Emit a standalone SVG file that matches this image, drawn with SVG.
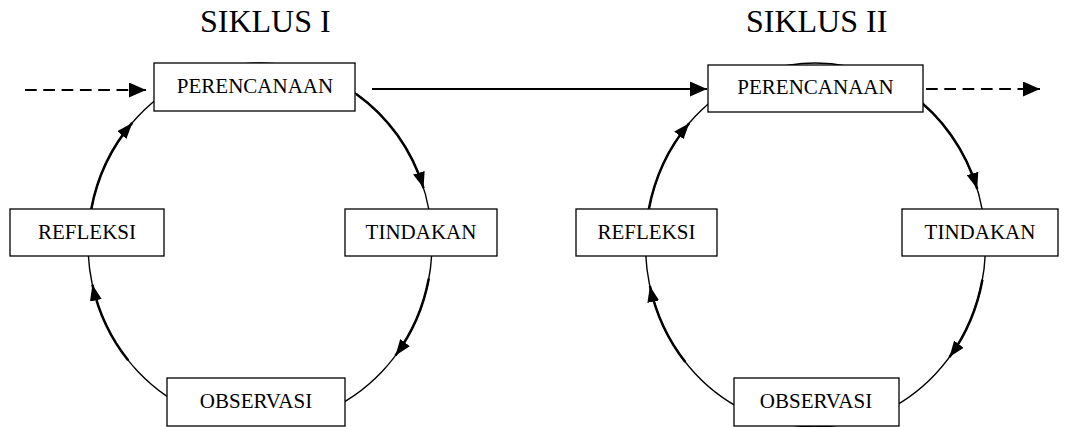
<svg xmlns="http://www.w3.org/2000/svg" width="1073" height="427" viewBox="0 0 1073 427">
<style>
.bg{fill:#fff}
.box{fill:#fff;stroke:#000;stroke-width:1.3}
.lbl{font-family:"Liberation Serif","Times New Roman",serif;font-size:21px;fill:#000;text-anchor:middle}
.ttl{font-family:"Liberation Serif","Times New Roman",serif;font-size:32px;fill:#000}
.ring{fill:none;stroke:#000;stroke-width:1.4}
.arc{fill:none;stroke:#000;stroke-width:2.5;marker-end:url(#ah2)}
.dash{fill:none;stroke:#000;stroke-width:2.2;stroke-dasharray:11.7 6.6;marker-end:url(#ah)}
.solid{fill:none;stroke:#000;stroke-width:2.2;marker-end:url(#ah)}
</style>
<defs>
<marker id="ah" viewBox="0 0 17 15" refX="17" refY="7.5" markerWidth="17" markerHeight="15" markerUnits="userSpaceOnUse" orient="auto"><path d="M0,0 L17,7.5 L0,15 z" fill="#000"/></marker>
<marker id="ah2" viewBox="0 0 16 12" refX="16" refY="6" markerWidth="16" markerHeight="12" markerUnits="userSpaceOnUse" orient="auto"><path d="M0,0 L16,6 L0,12 z" fill="#000"/></marker>
</defs>
<rect class="bg" x="0" y="0" width="1073" height="427"/>
<g id="titles">
<text class="ttl" x="200" y="32">SIKLUS I</text>
<text class="ttl" x="746" y="32">SIKLUS II</text>
</g>
<g id="connectors">
<ellipse class="ring" cx="260" cy="244" rx="172" ry="181"/>
<ellipse class="ring" cx="815.5" cy="245" rx="170" ry="182"/>
<path class="arc" d="M91.2,209.5 A172,181 0 0 1 132.2,122.9"/>
<path class="arc" d="M356.2,93.9 A172,181 0 0 1 423.6,188.1"/>
<path class="arc" d="M428.8,278.5 A172,181 0 0 1 395.5,355.4"/>
<path class="arc" d="M128.2,360.3 A172,181 0 0 1 92.4,284.7"/>
<path class="arc" d="M648.6,210.3 A170,182 0 0 1 689.2,123.2"/>
<path class="arc" d="M910.6,94.1 A170,182 0 0 1 977.2,188.8"/>
<path class="arc" d="M982.4,279.7 A170,182 0 0 1 949.5,357.1"/>
<path class="arc" d="M685.3,362 A170,182 0 0 1 649.9,286"/>
<path class="dash" d="M25,90 L146,90"/>
<path class="solid" d="M372,89 L707,89"/>
<path class="dash" d="M926,89 L1040,89"/>
</g>
<g id="perencanaan1"><rect class="box" x="154" y="63" width="201" height="48"/><text class="lbl" x="255" y="93">PERENCANAAN</text></g>
<g id="tindakan1"><rect class="box" x="345" y="209" width="152" height="47"/><text class="lbl" x="421" y="239">TINDAKAN</text></g>
<g id="observasi1"><rect class="box" x="167" y="378" width="178" height="48"/><text class="lbl" x="256" y="408">OBSERVASI</text></g>
<g id="refleksi1"><rect class="box" x="10" y="209" width="154" height="47"/><text class="lbl" x="87" y="239">REFLEKSI</text></g>
<g id="perencanaan2"><rect class="box" x="708" y="65" width="215" height="47"/><text class="lbl" x="815.5" y="94">PERENCANAAN</text></g>
<g id="tindakan2"><rect class="box" x="902" y="209" width="156" height="47"/><text class="lbl" x="980" y="239">TINDAKAN</text></g>
<g id="observasi2"><rect class="box" x="734" y="378" width="165" height="48"/><text class="lbl" x="816" y="408">OBSERVASI</text></g>
<g id="refleksi2"><rect class="box" x="576" y="209" width="141" height="47"/><text class="lbl" x="646.5" y="239">REFLEKSI</text></g>
</svg>
